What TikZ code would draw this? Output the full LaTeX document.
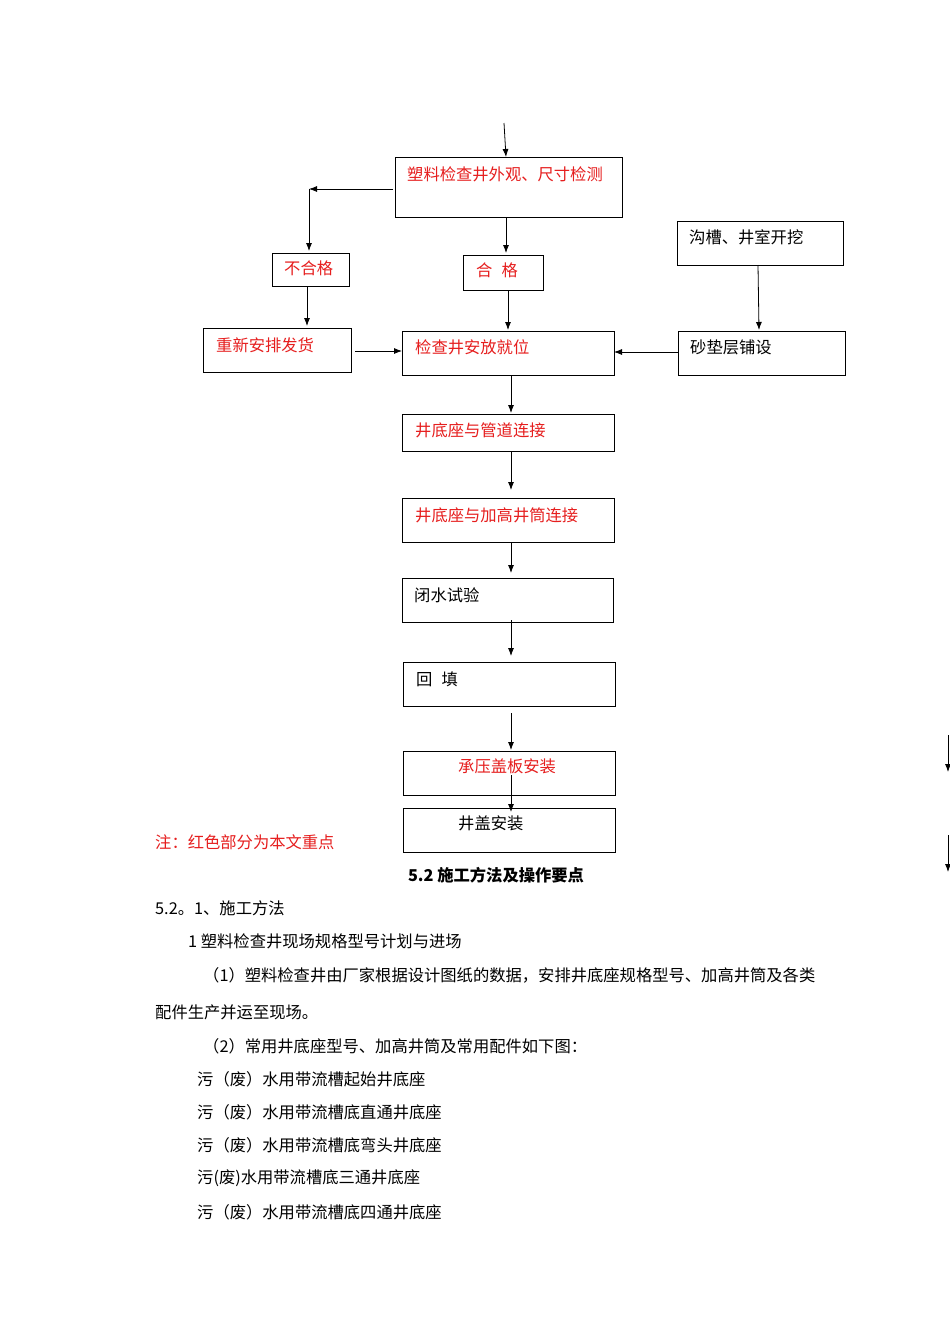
\documentclass[tikz,border=0pt]{standalone}
\usepackage{fontspec}
\setmainfont{Noto Sans CJK SC}
\usetikzlibrary{arrows.meta}
\definecolor{myred}{RGB}{230,30,30}
\begin{document}
\begin{tikzpicture}[x=1pt,y=-1pt,
  box/.style={draw,line width=0.8pt},
  lab/.style={anchor=west,font=\fontsize{16.3}{19}\selectfont,inner sep=0pt},
  rlab/.style={lab,text=myred},
  arr/.style={-{Latex[length=8pt,width=6pt]},line width=0.8pt},
  txt/.style={anchor=west,font=\fontsize{16.3}{19}\selectfont,inner sep=0pt}]
\useasboundingbox[fill=white] (0,0) rectangle (950,1344);
% boxes
\draw[box] (395,157) rectangle (622,217);
\draw[box] (272,253) rectangle (349,286);
\draw[box] (463,255) rectangle (543,290);
\draw[box] (677,221) rectangle (843,265);
\draw[box] (203,328) rectangle (351,372);
\draw[box] (402,331) rectangle (614,375);
\draw[box] (678,331) rectangle (845,375);
\draw[box] (402,414) rectangle (614,451);
\draw[box] (402,498) rectangle (614,542);
\draw[box] (402,578) rectangle (613,622);
\draw[box] (403,662) rectangle (615,706);
\draw[box] (403,751) rectangle (615,795);
\draw[box] (403,808) rectangle (615,852);
% labels
\node[rlab] (tA) at (407,174) {塑料检查井外观、尺寸检测};
\node[rlab] (tB) at (284,268) {不合格};
\node[rlab] (tC) at (476,270) {合\hspace{9pt}格};
\node[lab] (tD) at (689,237) {沟槽、井室开挖};
\node[rlab] (tE) at (216,345) {重新安排发货};
\node[rlab] (tF) at (415,347) {检查井安放就位};
\node[lab] (tG) at (690,347) {砂垫层铺设};
\node[rlab] (tH) at (415,430) {井底座与管道连接};
\node[rlab] (tI) at (415,515) {井底座与加高井筒连接};
\node[lab] (tJ) at (414,595) {闭水试验};
\node[lab] (tK) at (416,679) {回\hspace{9pt}填};
\node[rlab] (tL) at (458,766) {承压盖板安装};
\node[lab] (tM) at (458,823) {井盖安装};
% arrows
\coordinate (s0) at (504,123); \coordinate (e0) at (506,157);
\draw[arr] (s0) -- (e0);
\coordinate (a1) at (506,217); \coordinate (b1) at (506,253);
\draw[arr] (a1) -- (b1);
\coordinate (a2) at (393,189); \coordinate (b2) at (309,189); \coordinate (c2) at (309,251);
\draw[arr] (a2) -- (b2);
\draw[arr] (b2) -- (c2);
\coordinate (a3) at (307,286); \coordinate (b3) at (307,326);
\draw[arr] (a3) -- (b3);
\coordinate (a4) at (508,290); \coordinate (b4) at (508,330);
\draw[arr] (a4) -- (b4);
\coordinate (a5) at (355,351); \coordinate (b5) at (402,351);
\draw[arr] (a5) -- (b5);
\coordinate (a6) at (678,352); \coordinate (b6) at (614,352);
\draw[arr] (a6) -- (b6);
\coordinate (a7) at (758,265); \coordinate (b7) at (759,330);
\draw[arr] (a7) -- (b7);
\foreach \ya/\yb in {375/413,451/490,542/573,620/656,713/750,775/812}{
  \draw[arr] (511,\ya) -- (511,\yb);}
\draw[arr] (948,735) -- (948,772);
\draw[arr] (948,835) -- (948,872);
% text
\node[txt,text=myred] (note) at (155,842) {注：红色部分为本文重点};
\node[font=\fontsize{16.3}{19}\selectfont\bfseries,inner sep=0pt] (title) at (496,875) {5.2 施工方法及操作要点};
\node[txt] (l1) at (155,908) {5.2。1、施工方法};
\node[txt] (l2) at (188,941) {1 塑料检查井现场规格型号计划与进场};
\node[txt] (l3) at (203,975) {（1）塑料检查井由厂家根据设计图纸的数据，安排井底座规格型号、加高井筒及各类};
\node[txt] (l4) at (155,1012) {配件生产并运至现场。};
\node[txt] (l5) at (203,1046) {（2）常用井底座型号、加高井筒及常用配件如下图：};
\node[txt] (l6) at (197,1079) {污（废）水用带流槽起始井底座};
\node[txt] (l7) at (197,1112) {污（废）水用带流槽底直通井底座};
\node[txt] (l8) at (197,1145) {污（废）水用带流槽底弯头井底座};
\node[txt] (l9) at (197,1178) {污(废)水用带流槽底三通井底座};
\node[txt] (l10) at (197,1212) {污（废）水用带流槽底四通井底座};
\end{tikzpicture}
\end{document}
